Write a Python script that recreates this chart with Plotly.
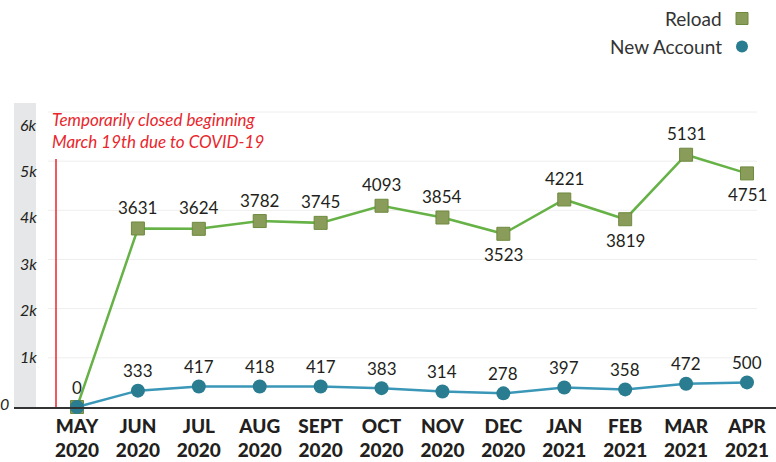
import plotly.graph_objects as go

months = ["MAY<br>2020", "JUN<br>2020", "JUL<br>2020", "AUG<br>2020", "SEPT<br>2020", "OCT<br>2020",
          "NOV<br>2020", "DEC<br>2020", "JAN<br>2021", "FEB<br>2021", "MAR<br>2021", "APR<br>2021"]
reload_vals = [0, 3631, 3624, 3782, 3745, 4093, 3854, 3523, 4221, 3819, 5131, 4751]
new_account_vals = [0, 333, 417, 418, 417, 383, 314, 278, 397, 358, 472, 500]
reload_label_side = ["none", "above", "above", "above", "above", "above", "above", "below",
                     "above", "below", "above", "below"]
y_tick_vals = [1000, 2000, 3000, 4000, 5000, 6000]
y_tick_text = ["1k", "2k", "3k", "4k", "5k", "6k"]
note_text = "Temporarily closed beginning<br>March 19th due to COVID-19"

GREEN_LINE = "#66b246"
GREEN_MARK = "#8a9c5a"
GREEN_EDGE = "#6e8a3e"
TEAL_LINE = "#3a97b8"
TEAL_MARK = "#2a7c90"
RED = "#e8262b"
TXT = "#231f20"
FONT = "Lato"

L, R, T, B, W, H = 14, 0, 100, 55, 776, 462
pw, ph = W - L - R, H - T - B
def px(xp): return (xp - L) / pw
def py(yp): return (H - B - yp) / ph

fig = go.Figure()
fig.add_trace(go.Scatter(
    x=months, y=reload_vals, mode="lines+markers", name="Reload",
    line=dict(color=GREEN_LINE, width=2.5),
    marker=dict(symbol="square", size=13, color=GREEN_MARK, line=dict(color=GREEN_EDGE, width=1)),
    cliponaxis=False, showlegend=False))
fig.add_trace(go.Scatter(
    x=months, y=new_account_vals, mode="lines+markers", name="New Account",
    line=dict(color=TEAL_LINE, width=2.5),
    marker=dict(symbol="circle", size=14, color=TEAL_MARK),
    cliponaxis=False, showlegend=False))
# invisible trace to activate label axis
fig.add_trace(go.Scatter(x=[months[0]], y=[0], yaxis="y2", mode="markers",
                         marker=dict(opacity=0), showlegend=False, hoverinfo="skip"))

annotations = []
for m, v, side in zip(months, reload_vals, reload_label_side):
    if side == "none":
        continue
    annotations.append(dict(x=m, y=v, xref="x", yref="y", text=str(v), showarrow=False,
                            yshift=21 if side == "above" else -21,
                            font=dict(family=FONT, size=17, color=TXT)))
for m, v in zip(months, new_account_vals):
    annotations.append(dict(x=m, y=v, xref="x", yref="y", text=str(v), showarrow=False,
                            yshift=20, font=dict(family=FONT, size=17, color=TXT)))

# "0" tick label outside band
annotations.append(dict(x=0, y=0, xref="paper", yref="y2", text="<i>0</i>", showarrow=False,
                        xanchor="right", xshift=-3, yanchor="middle",
                        font=dict(family=FONT, size=16, color=TXT)))
# closure note
annotations.append(dict(x=px(50), y=py(130), xref="paper", yref="paper", yanchor="middle",
                        xanchor="left", align="left", showarrow=False,
                        text="<i>%s</i>" % note_text,
                        font=dict(family=FONT, size=17, color=RED)))
# legend texts
for name, ypix in zip(["Reload", "New Account"], [18, 46.5]):
    annotations.append(dict(x=px(724), y=py(ypix), xref="paper", yref="paper", text=name,
                            showarrow=False, xanchor="right", yanchor="middle",
                            font=dict(family=FONT, size=19, color="#333333")))

shapes = [
    dict(type="rect", xref="paper", yref="paper", x0=0, x1=px(36), y0=0, y1=py(103),
         fillcolor="#e6e7e8", line=dict(width=0), layer="below"),
    dict(type="line", xref="paper", yref="paper", x0=px(56), x1=px(56), y0=0, y1=py(159),
         line=dict(color=RED, width=1.5)),
    dict(type="rect", xref="paper", yref="paper", x0=px(736), x1=px(748), y0=py(24.5), y1=py(12.5),
         fillcolor=GREEN_MARK, line=dict(color=GREEN_EDGE, width=1)),
    dict(type="circle", xref="paper", yref="paper", x0=px(736), x1=px(748), y0=py(52.5), y1=py(40.5),
         fillcolor=TEAL_MARK, line=dict(width=0)),
]
for v in y_tick_vals:
    shapes.append(dict(type="line", xref="paper", yref="y", x0=px(48), x1=px(757), y0=v, y1=v,
                       line=dict(color="#eeeeee", width=1), layer="below"))

k = (747 - 77) / 11
r0 = -(77 - L) / k
r1 = r0 + pw / k

fig.update_layout(
    width=W, height=H, margin=dict(l=L, r=R, t=T, b=B, pad=0, autoexpand=False),
    paper_bgcolor="white", plot_bgcolor="white",
    xaxis=dict(type="category", range=[r0, r1], showgrid=False, zeroline=False,
               showline=True, linecolor="#333333", linewidth=1.5, ticks="",
               ticklabelstandoff=1, automargin=False,
               tickfont=dict(family=FONT, size=19, color=TXT, weight=900)),
    yaxis=dict(range=[0, 6000 * ph / 295], showgrid=False, zeroline=False, showticklabels=False,
               fixedrange=True, automargin=False),
    yaxis2=dict(overlaying="y", side="left", range=[-77.6, -77.6 + ph / 46.4 * 1000],
                tickvals=y_tick_vals, ticktext=["<i>%s</i>" % t for t in y_tick_text],
                ticklabelposition="inside", showgrid=False, zeroline=False, showline=False,
                automargin=False,
                tickfont=dict(family=FONT, size=16, color=TXT), ticklabelstandoff=3),
    annotations=annotations, shapes=shapes, showlegend=False,
)
fig.write_html("out.html", config={"displayModeBar": False},
               post_script="document.body.style.margin='0';")
